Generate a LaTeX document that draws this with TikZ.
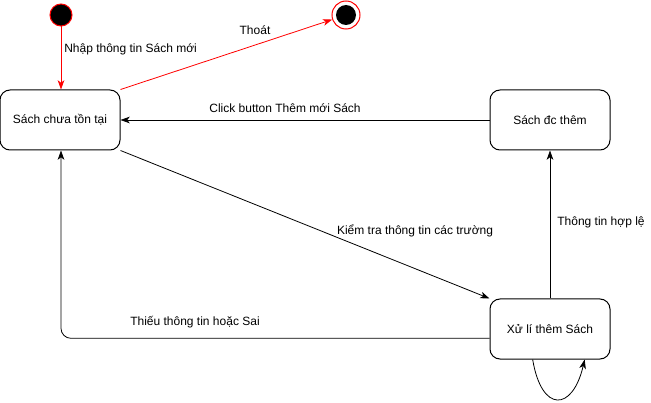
\documentclass[tikz,border=0pt]{standalone}
\usepackage{fontspec}
\setmainfont{Liberation Sans}
\usetikzlibrary{arrows.meta}
\definecolor{rouge}{rgb}{1,0,0}
\tikzset{etat/.style={draw, rounded corners=7.5pt, line width=0.75pt,
                      minimum width=90pt, minimum height=45pt},
         debut/.style={circle, draw=rouge, fill=black, line width=0.75pt,
                       minimum size=16.5pt, inner sep=0pt},
         fin/.style={circle, draw=rouge, line width=0.75pt,
                     minimum size=21pt, inner sep=0pt},
         fleche/.style={-{Stealth[length=7pt,width=5pt,inset=2pt]}, line width=0.6pt},
         rougefleche/.style={fleche, color=rouge},
         texte/.style={font=\fontsize{9pt}{11pt}\selectfont, inner sep=0pt}}

\begin{document}
\begin{tikzpicture}[x=0.75pt, y=-0.75pt, font=\fontsize{9pt}{11pt}\selectfont]
\useasboundingbox (0,0) rectangle (651,403);
% Start and end:
\node[debut] (debut) at (61,15) {};
\node[fin] (fin) at (346,15) {};
\fill (fin.center) circle (7.5pt);
% States:
\node[etat] (nouveau) at (60,120) {Sách chưa tồn tại};
\node[etat] (ajoute) at (550,120) {Sách đc thêm};
\node[etat] (traite) at (550,329) {Xử lí thêm Sách};

% Red transitions:
\draw[rougefleche] (debut) -- (nouveau.north -| debut);
\node[texte, anchor=west] (lnouveau) at (64,49) {Nhập thông tin Sách mới};
\draw[rougefleche] (nouveau.north east) -- (fin);
\node[texte] (lsortie) at (255,30) {Thoát};

% Black transitions:
\draw[fleche] (ajoute) -- (nouveau);
\node[texte] (lclick) at (285,108) {Click button Thêm mới Sách};
\draw[fleche] (nouveau.south east) -- (traite.north west);
\node[texte] (lverif) at (415,231) {Kiểm tra thông tin các trường};
\draw[fleche] (traite) -- (ajoute);
\node[texte] (lvalide) at (601,222) {Thông tin hợp lệ};
\draw[fleche, rounded corners=7.5pt] ([yshift=-7pt]traite.west) -| (nouveau.south -| debut);
\node[texte] (lerreur) at (195,322) {Thiếu thông tin hoặc Sai};
% Self loop:
\draw[fleche] ([xshift=-13pt]traite.south) .. controls +(9,54) and +(-12,52) .. ([xshift=26pt]traite.south);
\end{tikzpicture}
\end{document}
